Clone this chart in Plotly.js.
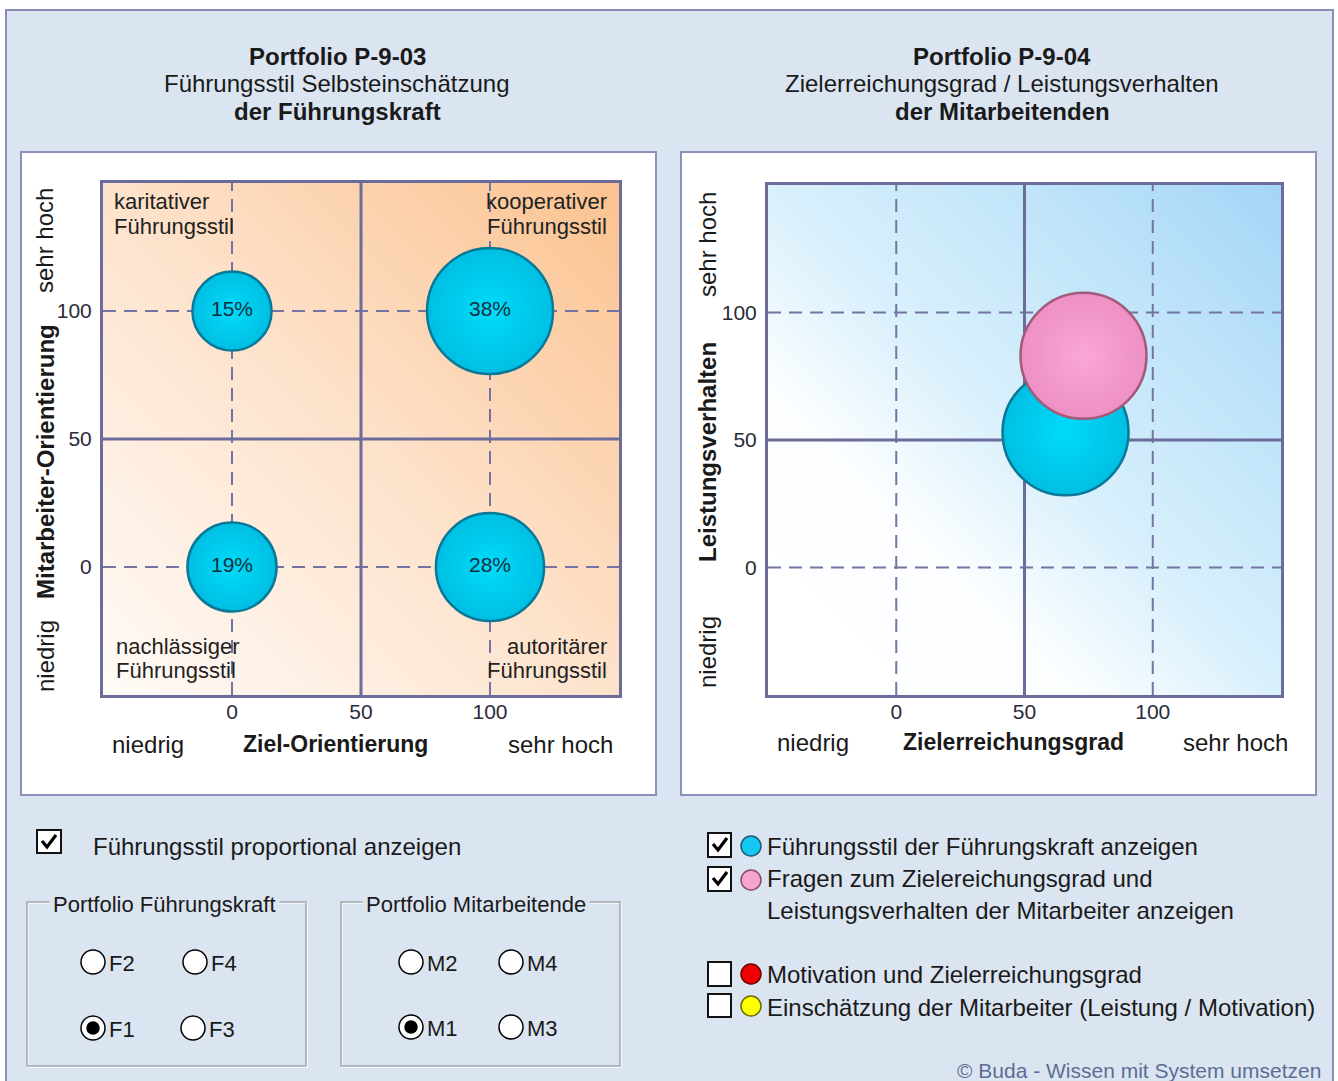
<!DOCTYPE html>
<html><head><meta charset="utf-8">
<script src="https://cdn.plot.ly/plotly-3.0.1.min.js"></script>
<style>html,body{margin:0;padding:0;background:#fff;}#chart{width:1338px;height:1081px;}</style>
</head><body><div id="chart"></div>
<script>
// ---------------- data ----------------
const styleLabels = ['karitativer', 'kooperativer', 'nachlässiger', 'autoritärer'];
const styleSuffix = 'Führungsstil';
const zielOrientierung = [0, 100, 0, 100];          // x of P-9-03
const mitarbeiterOrientierung = [100, 100, 0, 0];   // y of P-9-03
const styleShares = [15, 38, 19, 28];               // % per style

const p904Names = ['Führungsstil der Führungskraft', 'Zielerreichungsgrad / Leistungsverhalten'];
const zielerreichungsgrad = [66, 73];               // x of P-9-04
const leistungsverhalten = [53, 83];                // y of P-9-04

const tickValues = [0, 50, 100];
const tickLabels = ['0', '50', '100'];
const axisRange = [-50, 150];
const dashedGrid = [0, 100];
const quadrantSplit = [50];

// ---------------- helpers ----------------
const W = 1338, H = 1081;
const px = x => x / W;
const py = y => 1 - y / H;
const FONT = 'Liberation Sans, Arial, sans-serif';
const LINEC = '#6c6c9c';

function T(text, x, y, o = {}) {
  return {
    text, x: px(x), y: py(y), xref: 'paper', yref: 'paper', showarrow: false,
    xanchor: o.xa || 'center', yanchor: o.ya || 'middle', align: o.align || 'center',
    textangle: o.angle || 0,
    font: { family: o.family || FONT, size: o.size || 22, color: o.color || '#1a1a1a' },
    bgcolor: o.bg || 'rgba(0,0,0,0)', borderpad: o.pad || 0
  };
}
function R(x0, y0, x1, y1, o = {}) {
  return { type: 'rect', xref: 'paper', yref: 'paper', x0: px(x0), x1: px(x1), y0: py(y0), y1: py(y1),
    fillcolor: o.fill || 'rgba(0,0,0,0)', line: { color: o.line || '#000', width: o.w === undefined ? 1 : o.w }, layer: o.layer || 'below' };
}
function C(cx, cy, r, o = {}) {
  return { type: 'circle', xref: 'paper', yref: 'paper', x0: px(cx - r), x1: px(cx + r), y0: py(cy + r), y1: py(cy - r),
    fillcolor: o.fill || '#fff', line: { color: o.line || '#000', width: o.w === undefined ? 1.5 : o.w }, layer: 'above' };
}
function CHECK(x0, y0) {
  const p = [[x0 + 5, y0 + 11], [x0 + 10, y0 + 17], [x0 + 19, y0 + 5]];
  const d = 'M' + p.map(q => px(q[0]) + ',' + py(q[1])).join(' L');
  return { type: 'path', xref: 'paper', yref: 'paper', path: d, line: { color: '#000', width: 3.2 }, layer: 'above' };
}

function gridTraces(xa, ya) {
  const lo = axisRange[0], hi = axisRange[1];
  const vx = [], vy = [], hx = [], hy = [];
  dashedGrid.forEach(v => { vx.push(v, v, null); vy.push(lo, hi, null); hx.push(lo, hi, null); hy.push(v, v, null); });
  const sx = [], sy = [];
  quadrantSplit.forEach(v => { sx.push(v, v, null, lo, hi, null); sy.push(lo, hi, null, v, v, null); });
  const base = { type: 'scatter', mode: 'lines', hoverinfo: 'skip', showlegend: false, xaxis: xa, yaxis: ya };
  return [
    Object.assign({}, base, { x: vx.concat(hx), y: vy.concat(hy), line: { color: '#7474a4', width: 2, dash: '13px,8px' } }),
    Object.assign({}, base, { x: sx, y: sy, line: { color: LINEC, width: 3 } })
  ];
}

function bgTrace(xa, ya, scale) {
  return { type: 'heatmap', x: axisRange, y: axisRange, z: [[0, 0.5], [0.5, 1]], zmin: 0, zmax: 1,
    zsmooth: 'best', colorscale: scale, showscale: false, hoverinfo: 'skip', xaxis: xa, yaxis: ya };
}

const orangeScale = [[0, '#fffbf8'], [0.5, '#fde2cb'], [1, '#fbc28f']];
const blueScale = [[0, '#ffffff'], [0.3, '#fcfeff'], [0.5, '#d9f0fc'], [0.75, '#c0e4f9'], [1, '#a3d5f6']];

const maxBubblePx = 126;
const sizeref = 2 * Math.max(...styleShares) / (maxBubblePx * maxBubblePx);
const cyanMarker = { opacity: 1, color: '#00bfe3', gradient: { type: 'radial', color: '#00dbf9' }, line: { color: '#0a7896', width: 2.5 } };
const pinkMarker = { opacity: 1, color: '#ee90c4', gradient: { type: 'radial', color: '#fba6d8' }, line: { color: '#a05a7a', width: 2.5 } };

const traces = [
  bgTrace('x', 'y', orangeScale),
  ...gridTraces('x', 'y'),
  { type: 'scatter', mode: 'markers+text', x: zielOrientierung, y: mitarbeiterOrientierung,
    text: styleShares.map(v => v + '%'), textposition: 'middle center',
    textfont: { family: FONT, size: 21, color: '#12313d' },
    marker: Object.assign({ size: styleShares, sizemode: 'area', sizeref: sizeref }, cyanMarker),
    hoverinfo: 'skip', showlegend: false, xaxis: 'x', yaxis: 'y', cliponaxis: false },
  bgTrace('x2', 'y2', blueScale),
  ...gridTraces('x2', 'y2'),
  { type: 'scatter', mode: 'markers', x: [zielerreichungsgrad[0]], y: [leistungsverhalten[0]], name: p904Names[0],
    marker: Object.assign({ size: maxBubblePx }, cyanMarker),
    hoverinfo: 'skip', showlegend: false, xaxis: 'x2', yaxis: 'y2' },
  { type: 'scatter', mode: 'markers', x: [zielerreichungsgrad[1]], y: [leistungsverhalten[1]], name: p904Names[1],
    marker: Object.assign({ size: maxBubblePx }, pinkMarker),
    hoverinfo: 'skip', showlegend: false, xaxis: 'x2', yaxis: 'y2' }
];

function axis(domain, anchor, isY) {
  return { domain, anchor, range: axisRange, tickvals: tickValues, ticktext: tickLabels,
    showgrid: false, zeroline: false, showline: true, mirror: true, linecolor: LINEC, linewidth: 3,
    ticks: '', ticklabelstandoff: isY ? 4 : -4, tickfont: { family: FONT, size: 21, color: '#2a2a38' }, fixedrange: true };
}

const shapes = [
  R(6, 10, 1333, 1100, { fill: '#dbe5f1', line: '#8a8cb8', w: 2 }),
  R(21, 152, 656, 795, { fill: '#ffffff', line: '#8e90bc', w: 2 }),
  R(681, 152, 1316, 795, { fill: '#ffffff', line: '#8e90bc', w: 2 }),
  R(106, 186, 622, 698, { fill: '#b4b4bc', line: 'rgba(0,0,0,0)', w: 0 }),
  R(771, 188, 1284, 698, { fill: '#b4b4bc', line: 'rgba(0,0,0,0)', w: 0 }),
  // group boxes (etched)
  R(28, 903, 307, 1067, { line: '#ffffff', w: 1.5 }),
  R(27, 902, 306, 1066, { line: '#a2a6ae', w: 1.5 }),
  R(342, 903, 621, 1067, { line: '#ffffff', w: 1.5 }),
  R(341, 902, 620, 1066, { line: '#a2a6ae', w: 1.5 }),
  // checkboxes
  R(37, 830, 61, 853, { fill: '#ffffff', line: '#111', w: 2, layer: 'above' }),
  R(708, 833, 731, 857, { fill: '#ffffff', line: '#111', w: 2, layer: 'above' }),
  R(708, 867, 731, 891, { fill: '#ffffff', line: '#111', w: 2, layer: 'above' }),
  R(708, 962, 731, 986, { fill: '#ffffff', line: '#111', w: 2, layer: 'above' }),
  R(708, 994, 731, 1017, { fill: '#ffffff', line: '#111', w: 2, layer: 'above' }),
  CHECK(37, 830), CHECK(708, 833), CHECK(708, 867),
  // radio buttons
  C(93, 962, 12), C(195, 962, 12), C(93, 1028, 12), C(193, 1028, 12),
  C(93, 1028, 6, { fill: '#000' }),
  C(411, 962, 12), C(511, 962, 12), C(411, 1027, 12), C(511, 1027, 12),
  C(411, 1027, 6, { fill: '#000' }),
  // colour dots
  C(751, 846, 10, { fill: '#14c8f2', line: '#1a5a7a', w: 1.5 }),
  C(751, 880, 10, { fill: '#f6a6cc', line: '#8a4a6a', w: 1.5 }),
  C(751, 974, 10, { fill: '#ee0000', line: '#6a0000', w: 1.5 }),
  C(751, 1006, 10, { fill: '#ffff00', line: '#6a6a00', w: 1.5 })
];

const QF = { size: 22, color: '#222' };
const annotations = [
  // titles
  T('<b>Portfolio P-9-03</b>', 337, 56, { size: 24 }),
  T('Führungsstil Selbsteinschätzung', 337, 84, { size: 24 }),
  T('<b>der Führungskraft</b>', 337, 112, { size: 24 }),
  T('<b>Portfolio P-9-04</b>', 1002, 56, { size: 24 }),
  T('Zielerreichungsgrad / Leistungsverhalten', 1002, 84, { size: 24 }),
  T('<b>der Mitarbeitenden</b>', 1002, 112, { size: 24 }),
  // left axis texts
  T('sehr hoch', 45, 241, { angle: -90, size: 24 }),
  T('<b>Mitarbeiter-Orientierung</b>', 45, 462, { angle: -90, size: 24 }),
  T('niedrig', 45, 656, { angle: -90, size: 24 }),
  T('niedrig', 148, 744, { size: 24 }),
  T('<b>Ziel-Orientierung</b>', 335, 744, { size: 23 }),
  T('sehr hoch', 560, 744, { size: 24 }),
  // right axis texts
  T('sehr hoch', 707, 245, { angle: -90, size: 24 }),
  T('<b>Leistungsverhalten</b>', 707, 452, { angle: -90, size: 24 }),
  T('niedrig', 707, 652, { angle: -90, size: 24 }),
  T('niedrig', 813, 742, { size: 24 }),
  T('<b>Zielerreichungsgrad</b>', 1013, 742, { size: 23 }),
  T('sehr hoch', 1235, 742, { size: 24 }),
  // quadrant names
  T(styleLabels[0], 113, 202, Object.assign({ xa: 'left' }, QF)),
  T(styleSuffix, 113, 226, Object.assign({ xa: 'left' }, QF)),
  T(styleLabels[1], 608, 202, Object.assign({ xa: 'right' }, QF)),
  T(styleSuffix, 608, 226, Object.assign({ xa: 'right' }, QF)),
  T(styleLabels[2], 115, 646, Object.assign({ xa: 'left' }, QF)),
  T(styleSuffix, 115, 670, Object.assign({ xa: 'left' }, QF)),
  T(styleLabels[3], 608, 646, Object.assign({ xa: 'right' }, QF)),
  T(styleSuffix, 608, 670, Object.assign({ xa: 'right' }, QF)),
  // controls left
  T('Führungsstil proportional anzeigen', 92, 846, { xa: 'left', size: 24 }),
  T('Portfolio Führungskraft', 164, 904, { size: 22, bg: '#dbe5f1', pad: 3 }),
  T('Portfolio Mitarbeitende', 476, 904, { size: 22, bg: '#dbe5f1', pad: 3 }),
  T('F2', 108, 963, { xa: 'left', size: 22 }),
  T('F4', 210, 963, { xa: 'left', size: 22 }),
  T('F1', 108, 1029, { xa: 'left', size: 22 }),
  T('F3', 208, 1029, { xa: 'left', size: 22 }),
  T('M2', 426, 963, { xa: 'left', size: 22 }),
  T('M4', 526, 963, { xa: 'left', size: 22 }),
  T('M1', 426, 1028, { xa: 'left', size: 22 }),
  T('M3', 526, 1028, { xa: 'left', size: 22 }),
  // controls right
  T('Führungsstil der Führungskraft anzeigen', 766, 846, { xa: 'left', size: 24 }),
  T('Fragen zum Zielereichungsgrad und', 766, 878, { xa: 'left', size: 24 }),
  T('Leistungsverhalten der Mitarbeiter anzeigen', 766, 910, { xa: 'left', size: 24 }),
  T('Motivation und Zielerreichungsgrad', 766, 974, { xa: 'left', size: 24 }),
  T('Einschätzung der Mitarbeiter (Leistung / Motivation)', 766, 1007, { xa: 'left', size: 24 }),
  T('© Buda - Wissen mit System umsetzen', 1322, 1070, { xa: 'right', size: 21, color: '#5d6d94' })
];

const layout = {
  width: W, height: H, margin: { l: 0, r: 0, t: 0, b: 0 },
  paper_bgcolor: '#ffffff', plot_bgcolor: 'rgba(0,0,0,0)',
  showlegend: false,
  font: { family: FONT },
  xaxis: axis([px(103), px(619)], 'y', false),
  yaxis: axis([py(695), py(183)], 'x', true),
  xaxis2: axis([px(768), px(1281)], 'y2', false),
  yaxis2: axis([py(695), py(185)], 'x2', true),
  shapes, annotations
};

Plotly.newPlot('chart', traces, layout, { displayModeBar: false, staticPlot: true });
</script>
</body></html>
